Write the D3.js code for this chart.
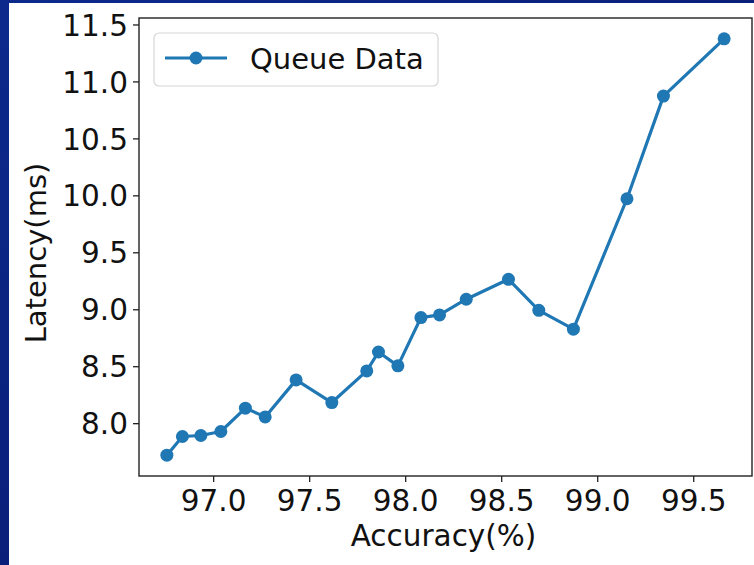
<!DOCTYPE html>
<html><head><meta charset="utf-8">
<script src="https://cdn.jsdelivr.net/npm/d3@7"></script>
<style>html,body{margin:0;padding:0;background:#0b1f7c;}svg{display:block;}</style>
</head><body>
<svg id="c" width="754" height="565"></svg>
<script>
const accuracy = [96.759, 96.840, 96.936, 97.040, 97.168, 97.271, 97.432, 97.618, 97.800, 97.861,
                  97.962, 98.082, 98.179, 98.318, 98.538, 98.696, 98.876, 99.155, 99.345, 99.661];
const latency  = [7.719, 7.883, 7.892, 7.927, 8.132, 8.055, 8.380, 8.181, 8.459, 8.625,
                  8.503, 8.927, 8.950, 9.088, 9.263, 8.991, 8.825, 9.970, 10.871, 11.374];
const xTicks = [97.0, 97.5, 98.0, 98.5, 99.0, 99.5];
const yTicks = [8.0, 8.5, 9.0, 9.5, 10.0, 10.5, 11.0, 11.5];
const seriesName = "Queue Data";
const xLabel = "Accuracy(%)";
const yLabel = "Latency(ms)";

const svg = d3.select("#c");
const W = 754, H = 565;
const font = "'DejaVu Sans', sans-serif";
const color = "#1f77b4";

// background
const defs = svg.append("defs");
const g1 = defs.append("linearGradient").attr("id","bg").attr("x1","0").attr("y1","0").attr("x2","1").attr("y2","1");
g1.append("stop").attr("offset","0").attr("stop-color","#0c2a8c");
g1.append("stop").attr("offset","0.5").attr("stop-color","#0a1f7a");
g1.append("stop").attr("offset","1").attr("stop-color","#071566");
svg.append("rect").attr("width",W).attr("height",H).attr("fill","url(#bg)");
// figure (white)
svg.append("rect").attr("x",9).attr("y",3).attr("width",W-9).attr("height",H-3).attr("fill","#ffffff");

const m = {left:139, right:752, top:18, bottom:476};
const xExt = d3.extent(accuracy), yExt = d3.extent(latency);
const xPad = (xExt[1]-xExt[0])*0.05, yPad = (yExt[1]-yExt[0])*0.05;
const x = d3.scaleLinear().domain([xExt[0]-xPad, xExt[1]+xPad]).range([m.left, m.right]);
const y = d3.scaleLinear().domain([yExt[0]-yPad, yExt[1]+yPad]).range([m.bottom, m.top]);

const pts = accuracy.map((a,i)=>({a, l:latency[i]}));

// axes
const xAxis = svg.append("g").attr("transform",`translate(0,${m.bottom})`)
  .call(d3.axisBottom(x).tickValues(xTicks).tickFormat(d3.format(".1f")).tickSize(6).tickPadding(8));
const yAxis = svg.append("g").attr("transform",`translate(${m.left},0)`)
  .call(d3.axisLeft(y).tickValues(yTicks).tickFormat(d3.format(".1f")).tickSize(6).tickPadding(5));
[xAxis,yAxis].forEach(a=>{
  a.select(".domain").remove();
  a.selectAll(".tick line").attr("stroke","#222").attr("stroke-width",1.3);
  a.selectAll(".tick text").attr("fill","#111").style("font-family",font).style("font-size","29.5px");
});
yAxis.selectAll(".tick text").attr("dy","0.36em");

// spines
svg.append("rect").attr("x",m.left).attr("y",m.top).attr("width",m.right-m.left).attr("height",m.bottom-m.top)
  .attr("fill","none").attr("stroke","#222").attr("stroke-width",1.4);

// line + markers
svg.append("path").datum(pts)
  .attr("d", d3.line().x(d=>x(d.a)).y(d=>y(d.l)))
  .attr("fill","none").attr("stroke",color).attr("stroke-width",3.2).attr("stroke-linejoin","round");
svg.append("g").selectAll("circle").data(pts).join("circle")
  .attr("cx",d=>x(d.a)).attr("cy",d=>y(d.l)).attr("r",6.5).attr("fill",color);

// labels
svg.append("text").attr("x",(m.left+m.right)/2 - 2).attr("y",546).attr("text-anchor","middle")
  .style("font-family",font).style("font-size","29.5px").attr("fill","#111").text(xLabel);
svg.append("text").attr("transform",`translate(46,${(m.top+m.bottom)/2 + 6}) rotate(-90)`).attr("text-anchor","middle")
  .style("font-family",font).style("font-size","29px").attr("fill","#111").text(yLabel);

// legend
const lg = svg.append("g");
lg.append("rect").attr("x",154).attr("y",33).attr("width",284).attr("height",53).attr("rx",5)
  .attr("fill","#fff").attr("fill-opacity",0.8).attr("stroke","#d6d6d6").attr("stroke-width",1.2);
lg.append("line").attr("x1",165).attr("x2",227).attr("y1",58).attr("y2",58).attr("stroke",color).attr("stroke-width",3.2);
lg.append("circle").attr("cx",196).attr("cy",58).attr("r",6.5).attr("fill",color);
lg.append("text").attr("x",250).attr("y",69).style("font-family",font).style("font-size","29px").attr("fill","#111").text(seriesName);
</script>
</body></html>
